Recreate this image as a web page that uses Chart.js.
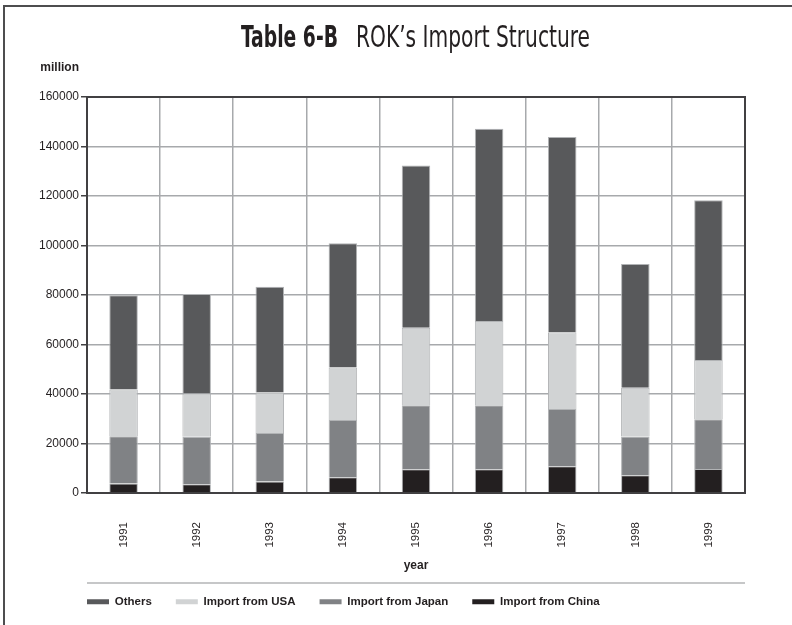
<!DOCTYPE html>
<html lang="en">
<head>
    <meta charset="UTF-8">
    <title>ROK's Import Structure</title>
    <script src="https://cdn.jsdelivr.net/npm/chart.js"></script>
    <style>
        body{margin:0;padding:0;background:#fff;overflow:hidden}
        .frame{position:absolute;left:3px;top:5px;width:800px;height:618px;border-left:2px solid #4d4d4f;border-top:2px solid #4d4d4f}
        .wrap{position:absolute;left:0;top:0;width:792px;height:625px}
    </style>
</head>
<body>
    <div class="frame"></div>
    <div class="wrap"><canvas id="importChart" width="792" height="625"></canvas></div>
    <script>
        // values in million
        const years = ['1991','1992','1993','1994','1995','1996','1997','1998','1999'];
        const fromChina = [3800, 3500, 4600, 6400, 9600, 9600, 10800, 7200, 9700];
        const fromJapan = [19100, 19200, 19600, 23100, 25900, 25900, 23100, 15600, 20100];
        const fromUSA = [18900, 17500, 16400, 21200, 31300, 34000, 31000, 19700, 23900];
        const others = [38100, 40200, 42700, 50200, 65500, 77700, 78900, 50000, 64600];
        const yMax = 160000, yStep = 20000;

        const cond = "'DejaVu Sans Condensed', 'Liberation Sans', sans-serif";
        const plain = "'Liberation Sans', Arial, sans-serif";
        const ink = '#231f20';

        // draws squeezed text so it fits a given width (reference uses a condensed face)
        function squeezed(ctx, text, x, y, w) {
            const m = ctx.measureText(text).width;
            ctx.save();
            ctx.translate(x, y);
            ctx.scale(Math.min(1, w / m), 1);
            ctx.fillText(text, 0, 0);
            ctx.restore();
        }

        const extras = {
            id: 'extras',
            afterLayout(chart) {
                // legend starts under the plot's left edge
                chart.legend.left += chart.chartArea.left - 24;
            },
            afterDraw(chart) {
                const ctx = chart.ctx, a = chart.chartArea;
                ctx.save();
                ctx.strokeStyle = '#414042';
                ctx.lineWidth = 2;
                ctx.strokeRect(a.left, a.top, a.right - a.left, a.bottom - a.top);
                ctx.fillStyle = ink;
                ctx.textBaseline = 'alphabetic';
                ctx.textAlign = 'left';
                ctx.font = 'bold 30px ' + cond;
                squeezed(ctx, 'Table 6-B', 241, 47, 97);
                ctx.font = '30px ' + cond;
                squeezed(ctx, 'ROK\u2019s Import Structure', 356, 47, 234);
                ctx.font = 'bold 12px ' + plain;
                ctx.textAlign = 'right';
                ctx.textBaseline = 'middle';
                ctx.fillText('million', a.left - 8, 68);
                ctx.strokeStyle = '#c6c7c8';
                ctx.lineWidth = 2;
                ctx.beginPath();
                ctx.moveTo(a.left, chart.legend.top + 11);
                ctx.lineTo(a.right, chart.legend.top + 11);
                ctx.stroke();
                ctx.restore();
            }
        };

        const mk = (label, data, color) => ({
            label, data, backgroundColor: color, borderColor: '#b1b3b5', borderWidth: 1,
            barPercentage: 0.39, categoryPercentage: 1, stack: 'a'
        });

        new Chart(document.getElementById('importChart'), {
            type: 'bar',
            data: {
                labels: years,
                datasets: [
                    mk('Import from China', fromChina, '#231f20'),
                    mk('Import from Japan', fromJapan, '#808285'),
                    mk('Import from USA', fromUSA, '#d1d3d4'),
                    mk('Others', others, '#58595b')
                ]
            },
            options: {
                responsive: false,
                animation: false,
                layout: {padding: {top: 97, left: 0, right: 47, bottom: 7.5}},
                plugins: {
                    tooltip: {enabled: false},
                    legend: {
                        position: 'bottom',
                        align: 'start',
                        reverse: true,
                        labels: {
                            boxWidth: 22, boxHeight: 5, padding: 24, color: ink,
                            font: {family: plain, size: 11.5, weight: 'bold'},
                            generateLabels(chart) {
                                return Chart.defaults.plugins.legend.labels.generateLabels(chart)
                                    .map(l => Object.assign(l, {lineWidth: 0}));
                            }
                        }
                    }
                },
                scales: {
                    x: {
                        stacked: true,
                        afterFit(s) { s.height = 79; },
                        grid: {offset: true, color: '#a7a9ac', lineWidth: 1.5, drawTicks: false},
                        border: {color: '#414042', width: 2},
                        ticks: {maxRotation: 90, minRotation: 90, padding: 29, color: ink, font: {family: plain, size: 11.5}},
                        title: {display: true, text: 'year', color: ink, font: {family: plain, size: 12, weight: 'bold'}, padding: {top: 0, bottom: -1}}
                    },
                    y: {
                        stacked: true,
                        min: 0, max: yMax,
                        afterFit(s) { s.width = 87; },
                        grid: {color: '#a7a9ac', lineWidth: 1.5, tickColor: '#414042', tickLength: 6},
                        border: {color: '#414042', width: 2},
                        ticks: {stepSize: yStep, padding: 2, color: ink, font: {family: plain, size: 12}, callback: v => String(v)}
                    }
                }
            },
            plugins: [extras]
        });
    </script>
</body>
</html>
